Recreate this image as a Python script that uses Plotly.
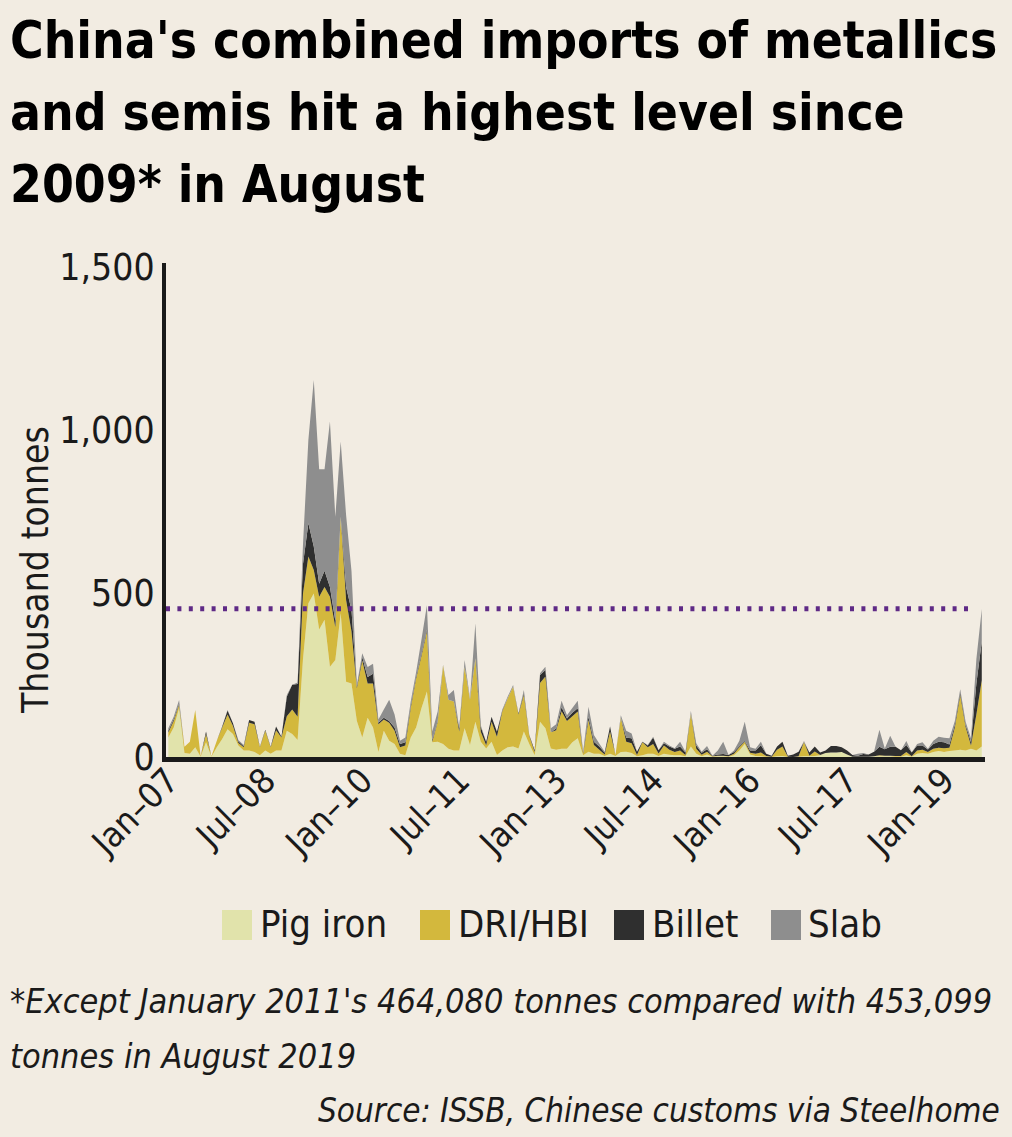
import plotly.graph_objects as go
import pandas as pd

# ---------------- data (thousand tonnes, monthly Jan-2007 .. Aug-2019) ----------------
months = list(pd.date_range("2007-01-01", "2019-08-01", freq="MS").strftime("%b-%y"))

pig_iron = [
    60, 90, 150, 12, 10, 30, 1, 45, 1, 30, 55, 85,            # 2007
    70, 35, 20, 20, 15, 5, 20, 10, 20, 20, 80, 70,            # 2008
    52, 300, 470, 500, 390, 420, 276, 297, 440, 230, 225, 110,  # 2009
    60, 120, 90, 15, 80, 50, 40, 10, 5, 60, 90, 150,          # 2010
    200, 45, 47, 40, 25, 20, 20, 88, 37, 108, 47, 26,         # 2011
    47, 6, 20, 30, 32, 26, 78, 40, 5, 108, 88, 26,            # 2012
    22, 25, 25, 45, 57, 5, 16, 10, 10, 3, 10, 3,              # 2013
    15, 16, 12, 2, 5, 10, 10, 3, 10, 7, 5, 5,                 # 2014
    2, 32, 10, 2, 8, 1, 2, 2, 1, 5, 20, 40,                   # 2015
    8, 3, 2, 1, 0, 2, 3, 0, 0, 1, 2, 2,                       # 2016
    3, 5, 12, 14, 14, 15, 8, 1, 1, 1, 1, 2,                   # 2017
    2, 2, 2, 1, 1, 5, 1, 10, 12, 10, 15, 18,                  # 2018
    15, 18, 20, 22, 20, 25, 20, 32,                           # 2019
]
dri_hbi = [
    15, 20, 10, 19, 37, 114, 1, 25, 1, 20, 35, 45,
    25, 8, 10, 85, 85, 25, 60, 20, 62, 40, 45, 75,
    71, 200, 143, 72, 100, 100, 214, 100, 295, 250, 160, 100,
    235, 105, 135, 85, 35, 55, 40, 20, 30, 90, 150, 160,
    184, 2, 60, 240, 150, 150, 58, 188, 138, 194, 30, 10,
    61, 56, 120, 150, 183, 104, 112, 25, 10, 118, 158, 50,
    60, 115, 85, 80, 82, 5, 97, 27, 12, 5, 68, 3,
    105, 31, 30, 4, 40, 20, 30, 8, 25, 15, 10, 15,
    4, 100, 15, 5, 8, 1, 2, 2, 1, 5, 10, 7,
    5, 7, 12, 2, 1, 20, 29, 1, 0, 1, 44, 2,
    14, 1, 0, 0, 0, 0, 0, 0, 0, 0, 0, 0,
    3, 2, 2, 2, 2, 10, 1, 10, 10, 5, 10, 10,
    12, 10, 70, 168, 72, 10, 110, 203,
]
billet = [
    5, 5, 3, 0, 0, 0, 0, 8, 0, 0, 3, 12,
    8, 5, 3, 8, 8, 1, 3, 1, 11, 2, 60, 76,
    100, 90, 102, 72, 40, 50, 30, 20, 0, 40, 65, 5,
    10, 20, 30, 5, 5, 5, 10, 10, 10, 5, 5, 5,
    5, 5, 2, 0, 0, 0, 10, 0, 0, 0, 15, 10,
    15, 15, 2, 0, 0, 3, 5, 2, 6, 25, 20, 0,
    5, 12, 8, 10, 10, 3, 10, 10, 10, 5, 15, 0,
    0, 12, 15, 10, 2, 5, 20, 10, 7, 10, 10, 12,
    8, 0, 10, 6, 8, 2, 4, 5, 4, 5, 3, 2,
    7, 10, 22, 7, 3, 10, 15, 3, 8, 14, 0, 10,
    15, 8, 8, 20, 20, 15, 12, 5, 3, 8, 7, 14,
    26, 20, 27, 28, 18, 22, 12, 15, 13, 8, 15, 19,
    18, 10, 8, 7, 6, 10, 95, 118,
]
slab = [
    8, 8, 11, 0, 0, 0, 0, 0, 0, 0, 0, 2,
    0, 4, 4, 0, 0, 0, 0, 0, 0, 0, 5, 0,
    5, 60, 255, 509, 350, 310, 506, 318, 230, 220, 120, 5,
    12, 30, 30, 10, 25, 65, 40, 10, 15, 15, 15, 45,
    75, 26, 30, 2, 15, 35, 0, 21, 5, 107, 5, 0,
    0, 0, 3, 5, 5, 0, 10, 0, 0, 5, 10, 12,
    13, 20, 10, 15, 23, 3, 31, 20, 9, 3, 0, 0,
    8, 21, 15, 0, 0, 2, 2, 0, 5, 3, 2, 15,
    2, 9, 7, 3, 10, 0, 12, 38, 0, 5, 17, 59,
    10, 5, 11, 0, 0, 0, 0, 0, 0, 0, 3, 0,
    0, 0, 0, 0, 0, 0, 0, 0, 6, 3, 0, 0,
    52, 2, 34, 0, 0, 12, 0, 5, 10, 2, 10, 15,
    14, 19, 12, 10, 10, 12, 75, 100,
]

series_names = ["Pig iron", "DRI/HBI", "Billet", "Slab"]
series_colors = ["#e1e3ab", "#d3b83d", "#2f2f2f", "#8e8e8e"]

tick_months = ["Jan-07", "Jul-08", "Jan-10", "Jul-11", "Jan-13", "Jul-14", "Jan-16", "Jul-17", "Jan-19"]
tick_labels = ["Jan–07", "Jul–08", "Jan–10", "Jul–11", "Jan–13", "Jul–14", "Jan–16", "Jul–17", "Jan–19"]
y_ticks = [0, 500, 1000, 1500]
y_tick_labels = ["0", "500", "1,000", "1,500"]
aug_2019_total = 453.099  # reference level (dotted line)

# ---------------- styling ----------------
BG = "#f2ece2"
INK = "#1a1a1a"
FONT = "DejaVu Sans Condensed, DejaVu Sans, sans-serif"
W, H = 1012, 1137
L, R, T, B = 166, 27, 263, 380
PW, PH = W - L - R, H - T - B


def px_x(X):
    return (X - L) / PW


def px_y(Y):
    return (H - B - Y) / PH


fig = go.Figure()
for name, vals, col in zip(series_names, [pig_iron, dri_hbi, billet, slab], series_colors):
    fig.add_trace(go.Scatter(
        x=months, y=vals, name=name, stackgroup="one", mode="none",
        fillcolor=col, showlegend=False, hoverinfo="x+y+name",
    ))

# dotted reference line at August 2019 level
fig.add_shape(type="line", xref="paper", yref="y", x0=0, x1=px_x(970),
              y0=aug_2019_total, y1=aug_2019_total,
              line=dict(color="#5f2a86", width=5, dash="4px,7.4px"))

annotations = []
# title
title_lines = ["China's combined imports of metallics",
               "and semis hit a highest level since",
               "2009* in August"]
for line, yc in zip(title_lines, [40, 113, 185]):
    annotations.append(dict(text="<b>%s</b>" % line, xref="paper", yref="paper",
                            x=px_x(8), y=px_y(yc), xanchor="left", yanchor="middle",
                            showarrow=False, font=dict(family=FONT, size=51, color="#000000")))
# y-axis title
annotations.append(dict(text="Thousand tonnes", xref="paper", yref="paper",
                        x=px_x(35), y=px_y(570), xanchor="center", yanchor="middle",
                        textangle=-90, showarrow=False,
                        font=dict(family=FONT, size=37, color=INK)))
# legend (manual, square swatches)
legend_sw_x = [222, 420, 614, 771]
legend_tx_x = [258, 456, 650, 806]
for name, col, sx, tx in zip(series_names, series_colors, legend_sw_x, legend_tx_x):
    fig.add_shape(type="rect", xref="paper", yref="paper",
                  x0=px_x(sx), x1=px_x(sx + 30), y0=px_y(940), y1=px_y(910),
                  fillcolor=col, line=dict(width=0))
    annotations.append(dict(text=name, xref="paper", yref="paper",
                            x=px_x(tx), y=px_y(924), xanchor="left", yanchor="middle",
                            showarrow=False, font=dict(family=FONT, size=38, color=INK)))
# footnote and source
foot_lines = ["*Except January 2011's 464,080 tonnes compared with 453,099",
              "tonnes in August 2019"]
for line, yc in zip(foot_lines, [1001, 1056]):
    annotations.append(dict(text="<i>%s</i>" % line, xref="paper", yref="paper",
                            x=px_x(8), y=px_y(yc), xanchor="left", yanchor="middle",
                            showarrow=False, font=dict(family=FONT, size=34, color=INK)))
annotations.append(dict(text="<i>Source: ISSB, Chinese customs via Steelhome</i>",
                        xref="paper", yref="paper", x=px_x(1002), y=px_y(1110),
                        xanchor="right", yanchor="middle", showarrow=False,
                        font=dict(family=FONT, size=33, color=INK)))

fig.update_layout(
    width=W, height=H, autosize=False,
    margin=dict(l=L, r=R, t=T, b=B, pad=0),
    paper_bgcolor=BG, plot_bgcolor=BG,
    font=dict(family=FONT, color=INK),
    showlegend=False,
    annotations=annotations,
    xaxis=dict(type="category", range=[-0.43, 151.6], showgrid=False, zeroline=False,
               showline=True, linecolor=INK, linewidth=5, ticks="",
               tickmode="array", tickvals=tick_months, ticktext=tick_labels,
               tickangle=-45, ticklabelstandoff=-16,
               tickfont=dict(family=FONT, size=35, color=INK)),
    yaxis=dict(range=[0, 1511], showgrid=False, zeroline=False,
               showline=True, linecolor=INK, linewidth=4, ticks="",
               tickmode="array", tickvals=y_ticks, ticktext=y_tick_labels,
               tickfont=dict(family=FONT, size=37, color=INK)),
)

fig.write_html("out.html", config={"displayModeBar": False},
               post_script="document.body.style.margin='0';document.body.style.overflow='hidden';")
